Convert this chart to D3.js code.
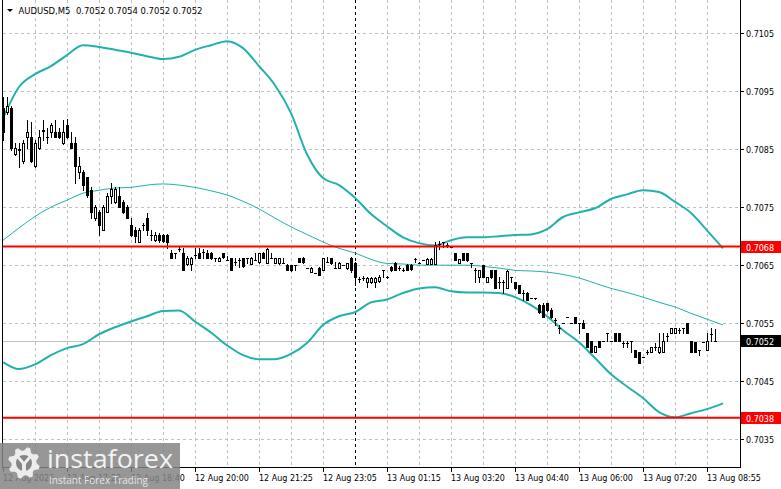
<!DOCTYPE html>
<html><head><meta charset="utf-8">
<script src="https://cdn.jsdelivr.net/npm/d3@7"></script>
<style>html,body{margin:0;padding:0;background:#fff;overflow:hidden}svg{display:block}</style>
</head><body>
<script>
// ---- DATA ----
const symbolTitle = "AUDUSD,M5  0.7052 0.7054 0.7052 0.7052";
const opens = [0.70921,0.70914,0.70921,0.70841,0.70848,0.70829,0.70871,0.70871,0.70821,0.70852,
0.70881,0.70871,0.70879,0.70879,0.70879,0.70860,0.70891,0.70860,0.70860,0.70810,
0.70810,0.70802,0.70779,0.70731,0.70741,0.70710,0.70741,0.70769,0.70759,0.70769,
0.70759,0.70750,0.70719,0.70710,0.70690,0.70719,0.70731,0.70702,0.70693,0.70702,
0.70702,0.70702,0.70671,0.70671,0.70678,0.70671,0.70652,0.70652,0.70667,0.70671,
0.70672,0.70671,0.70671,0.70662,0.70657,0.70671,0.70659,0.70662,0.70655,0.70659,
0.70662,0.70662,0.70652,0.70659,0.70655,0.70671,0.70653,0.70662,0.70653,0.70653,
0.70653,0.70650,0.70650,0.70650,0.70662,0.70662,0.70645,0.70638,0.70636,0.70645,
0.70641,0.70655,0.70662,0.70645,0.70645,0.70650,0.70645,0.70662,0.70653,0.70626,
0.70628,0.70621,0.70621,0.70621,0.70622,0.70641,0.70629,0.70647,0.70653,0.70645,
0.70641,0.70650,0.70650,0.70660,0.70653,0.70659,0.70652,0.70652,0.70652,0.70686,
0.70690,0.70684,0.70681,0.70671,0.70653,0.70671,0.70671,0.70653,0.70641,0.70629,
0.70650,0.70621,0.70641,0.70641,0.70621,0.70621,0.70610,0.70629,0.70621,0.70616,
0.70602,0.70602,0.70593,0.70593,0.70581,0.70581,0.70584,0.70572,0.70555,0.70541,
0.70550,0.70560,0.70550,0.70560,0.70550,0.70550,0.70533,0.70520,0.70500,0.70520,
0.70520,0.70533,0.70520,0.70533,0.70533,0.70516,0.70516,0.70520,0.70503,0.70500,
0.70491,0.70500,0.70500,0.70509,0.70500,0.70500,0.70528,0.70533,0.70533,0.70538,
0.70541,0.70550,0.70520,0.70517,0.70503,0.70517,0.70503,0.70531,0.70520];
const highs = [0.70940,0.70940,0.70924,0.70860,0.70860,0.70866,0.70900,0.70897,0.70866,0.70883,
0.70900,0.70886,0.70895,0.70900,0.70886,0.70900,0.70902,0.70879,0.70871,0.70836,
0.70814,0.70802,0.70784,0.70753,0.70745,0.70753,0.70774,0.70791,0.70784,0.70784,
0.70762,0.70753,0.70731,0.70716,0.70714,0.70722,0.70740,0.70710,0.70707,0.70705,
0.70703,0.70703,0.70676,0.70671,0.70681,0.70679,0.70666,0.70664,0.70679,0.70679,
0.70678,0.70676,0.70672,0.70662,0.70664,0.70671,0.70666,0.70662,0.70662,0.70662,
0.70662,0.70662,0.70664,0.70671,0.70671,0.70672,0.70679,0.70671,0.70662,0.70662,
0.70662,0.70652,0.70650,0.70650,0.70662,0.70664,0.70645,0.70647,0.70636,0.70647,
0.70662,0.70664,0.70662,0.70655,0.70655,0.70650,0.70653,0.70664,0.70655,0.70629,
0.70631,0.70629,0.70629,0.70629,0.70633,0.70641,0.70631,0.70648,0.70655,0.70648,
0.70645,0.70652,0.70652,0.70662,0.70655,0.70659,0.70662,0.70662,0.70690,0.70691,
0.70690,0.70688,0.70681,0.70671,0.70660,0.70671,0.70671,0.70653,0.70645,0.70641,
0.70650,0.70629,0.70641,0.70641,0.70629,0.70624,0.70641,0.70629,0.70621,0.70616,
0.70607,0.70603,0.70593,0.70593,0.70583,0.70584,0.70584,0.70576,0.70559,0.70547,
0.70550,0.70560,0.70550,0.70560,0.70550,0.70555,0.70533,0.70520,0.70510,0.70520,
0.70520,0.70533,0.70520,0.70533,0.70533,0.70520,0.70520,0.70520,0.70503,0.70500,
0.70491,0.70503,0.70509,0.70516,0.70533,0.70533,0.70533,0.70541,0.70541,0.70541,
0.70541,0.70550,0.70520,0.70517,0.70503,0.70517,0.70533,0.70541,0.70540];
const lows = [0.70866,0.70910,0.70848,0.70840,0.70819,0.70826,0.70852,0.70828,0.70819,0.70850,
0.70866,0.70860,0.70871,0.70871,0.70869,0.70859,0.70869,0.70852,0.70791,0.70800,
0.70779,0.70767,0.70731,0.70728,0.70702,0.70710,0.70741,0.70757,0.70757,0.70750,
0.70740,0.70731,0.70700,0.70690,0.70690,0.70710,0.70702,0.70693,0.70691,0.70690,
0.70690,0.70679,0.70662,0.70662,0.70674,0.70641,0.70650,0.70641,0.70662,0.70662,
0.70662,0.70662,0.70660,0.70657,0.70657,0.70662,0.70659,0.70641,0.70650,0.70647,
0.70647,0.70653,0.70652,0.70659,0.70653,0.70662,0.70653,0.70662,0.70653,0.70652,
0.70653,0.70641,0.70640,0.70641,0.70655,0.70653,0.70645,0.70638,0.70636,0.70633,
0.70641,0.70655,0.70652,0.70645,0.70645,0.70650,0.70643,0.70638,0.70616,0.70621,
0.70624,0.70612,0.70619,0.70612,0.70621,0.70629,0.70628,0.70640,0.70641,0.70641,
0.70640,0.70641,0.70641,0.70655,0.70653,0.70659,0.70652,0.70652,0.70652,0.70678,
0.70681,0.70681,0.70681,0.70659,0.70653,0.70659,0.70657,0.70647,0.70621,0.70621,
0.70629,0.70621,0.70628,0.70610,0.70610,0.70602,0.70610,0.70621,0.70609,0.70602,
0.70590,0.70590,0.70593,0.70591,0.70567,0.70560,0.70571,0.70559,0.70547,0.70533,
0.70550,0.70560,0.70550,0.70550,0.70533,0.70541,0.70509,0.70500,0.70500,0.70509,
0.70520,0.70520,0.70520,0.70520,0.70520,0.70509,0.70509,0.70500,0.70491,0.70481,
0.70491,0.70497,0.70500,0.70503,0.70498,0.70500,0.70520,0.70533,0.70533,0.70533,
0.70533,0.70533,0.70500,0.70500,0.70495,0.70517,0.70503,0.70520,0.70520];
const closes = [0.70879,0.70924,0.70852,0.70852,0.70850,0.70860,0.70879,0.70829,0.70860,0.70871,
0.70883,0.70871,0.70891,0.70871,0.70871,0.70879,0.70871,0.70852,0.70821,0.70821,
0.70788,0.70771,0.70741,0.70750,0.70719,0.70750,0.70769,0.70781,0.70781,0.70750,
0.70741,0.70731,0.70702,0.70700,0.70710,0.70719,0.70710,0.70702,0.70702,0.70693,
0.70691,0.70690,0.70662,0.70671,0.70678,0.70641,0.70662,0.70662,0.70667,0.70662,
0.70672,0.70662,0.70662,0.70662,0.70662,0.70664,0.70659,0.70641,0.70655,0.70659,
0.70648,0.70662,0.70662,0.70659,0.70671,0.70662,0.70678,0.70662,0.70662,0.70662,
0.70653,0.70641,0.70641,0.70650,0.70655,0.70655,0.70645,0.70645,0.70636,0.70633,
0.70662,0.70655,0.70653,0.70645,0.70653,0.70650,0.70653,0.70641,0.70629,0.70626,
0.70628,0.70628,0.70628,0.70628,0.70629,0.70641,0.70629,0.70641,0.70641,0.70645,
0.70641,0.70641,0.70643,0.70660,0.70653,0.70659,0.70660,0.70660,0.70684,0.70686,
0.70690,0.70684,0.70681,0.70659,0.70660,0.70659,0.70659,0.70653,0.70641,0.70641,
0.70629,0.70629,0.70629,0.70610,0.70621,0.70621,0.70640,0.70629,0.70610,0.70602,
0.70602,0.70590,0.70593,0.70593,0.70569,0.70560,0.70572,0.70560,0.70555,0.70541,
0.70550,0.70560,0.70550,0.70550,0.70550,0.70541,0.70509,0.70500,0.70510,0.70509,
0.70520,0.70533,0.70520,0.70520,0.70520,0.70516,0.70516,0.70520,0.70491,0.70481,
0.70491,0.70500,0.70509,0.70509,0.70509,0.70520,0.70528,0.70541,0.70541,0.70538,
0.70541,0.70533,0.70500,0.70500,0.70503,0.70517,0.70520,0.70531,0.70520];

// Bollinger band readings (sampled every 4 bars)
const bandIdx = d3.range(0, 181, 4);
const bandUpper = [0.70903,0.70957,0.70979,0.70993,0.71012,0.71029,0.71026,0.71021,0.71016,0.71010,
0.71005,0.71009,0.71021,0.71029,0.71036,0.71024,0.70993,0.70960,0.70912,0.70841,
0.70800,0.70788,0.70766,0.70738,0.70717,0.70698,0.70688,0.70684,0.70693,0.70698,
0.70698,0.70700,0.70702,0.70703,0.70712,0.70733,0.70741,0.70748,0.70764,0.70772,
0.70779,0.70776,0.70759,0.70740,0.70710,0.70679];
const bandMiddle = [0.70693,0.70714,0.70734,0.70750,0.70762,0.70774,0.70779,0.70783,0.70784,0.70788,
0.70790,0.70788,0.70784,0.70778,0.70771,0.70760,0.70747,0.70731,0.70716,0.70703,
0.70690,0.70679,0.70671,0.70660,0.70653,0.70652,0.70650,0.70650,0.70650,0.70650,
0.70648,0.70645,0.70641,0.70640,0.70638,0.70634,0.70628,0.70619,0.70610,0.70603,
0.70595,0.70586,0.70578,0.70567,0.70557,0.70547];
const bandLower = [0.70483,0.70471,0.70479,0.70495,0.70507,0.70514,0.70531,0.70543,0.70553,0.70562,
0.70571,0.70572,0.70553,0.70534,0.70512,0.70495,0.70488,0.70488,0.70497,0.70516,
0.70547,0.70562,0.70569,0.70586,0.70591,0.70602,0.70610,0.70612,0.70605,0.70603,
0.70603,0.70602,0.70595,0.70581,0.70562,0.70538,0.70517,0.70490,0.70462,0.70441,
0.70421,0.70397,0.70388,0.70395,0.70402,0.70412];

const priceTicks = [0.7105,0.7095,0.7085,0.7075,0.7065,0.7055,0.7045,0.7035];
const timeTickIdx = [0,16,32,48,64,80,96,112,128,144,160,176];
const timeTickLabels = ["12 Aug 2026","12 Aug 17:20","12 Aug 18:40","12 Aug 20:00","12 Aug 21:25","12 Aug 23:05",
"13 Aug 01:15","13 Aug 03:20","13 Aug 04:40","13 Aug 06:00","13 Aug 07:20","13 Aug 08:55"];
const levelValues = [0.70682, 0.70387];
const levelLabels = ["0.7068", "0.7038"];
const bidValue = 0.70520, bidLabel = "0.7052";
const daySeparatorIdx = 88;

// ---- DRAW ----
const W = 781, H = 489;
const plotL = 2, plotR = 740, plotB = 467;
const svg = d3.select("body").append("svg").attr("width", W).attr("height", H)
  .style("font-family", "'DejaVu Sans', sans-serif");
svg.append("rect").attr("width", W).attr("height", H).attr("fill", "#fff");

const x = d3.scaleLinear().domain([0, 178]).range([3, 715]);
const y = d3.scaleLinear().domain([0.7035, 0.7105]).range([439.3, 33]);
const px = v => Math.round(x(v));
const py = v => Math.round(y(v));

const grid = svg.append("g").attr("shape-rendering", "crispEdges");
priceTicks.forEach(p => {
  grid.append("line").attr("x1", plotL + 1).attr("x2", plotR).attr("y1", py(p) + 0.5).attr("y2", py(p) + 0.5)
    .attr("stroke", "#c0c0c0").attr("stroke-dasharray", "3,3");
});
d3.range(8, 180, 8).forEach(i => {
  const xx = px(i);
  if (xx >= plotR - 2 || i === daySeparatorIdx) return;
  grid.append("line").attr("x1", xx + 0.5).attr("x2", xx + 0.5).attr("y1", 0).attr("y2", plotB)
    .attr("stroke", "#c0c0c0").attr("stroke-dasharray", "3,3");
});
grid.append("line").attr("x1", px(daySeparatorIdx) + 0.5).attr("x2", px(daySeparatorIdx) + 0.5)
  .attr("y1", 0).attr("y2", plotB).attr("stroke", "#000").attr("stroke-dasharray", "3,3");
grid.append("line").attr("x1", plotL + 1).attr("x2", plotR).attr("y1", py(bidValue) + 0.5).attr("y2", py(bidValue) + 0.5)
  .attr("stroke", "#c0c0c0");

// Bollinger bands
const bandLine = arr => d3.line().x((d, k) => x(bandIdx[k])).y(d => y(d)).curve(d3.curveMonotoneX)(arr);
svg.append("path").attr("d", bandLine(bandUpper)).attr("fill", "none").attr("stroke", "#20b2aa").attr("stroke-width", 2);
svg.append("path").attr("d", bandLine(bandLower)).attr("fill", "none").attr("stroke", "#20b2aa").attr("stroke-width", 2);
svg.append("path").attr("d", bandLine(bandMiddle)).attr("fill", "none").attr("stroke", "#20b2aa").attr("stroke-width", 1);

// candles
const cg = svg.append("g").attr("shape-rendering", "crispEdges");
opens.forEach((o, i) => {
  const c = closes[i], h = highs[i], l = lows[i];
  const cx = px(i);
  const yo = py(o), yc = py(c), yh = py(h), yl = py(l);
  const top = Math.min(yo, yc), bot = Math.max(yo, yc);
  cg.append("rect").attr("x", cx).attr("y", yh).attr("width", 1).attr("height", Math.max(1, yl - yh + 1)).attr("fill", "#000");
  if (bot - top < 1) {
    cg.append("rect").attr("x", cx - 1).attr("y", top).attr("width", 3).attr("height", 1).attr("fill", "#000");
  } else if (c < o) {
    cg.append("rect").attr("x", cx - 1).attr("y", top).attr("width", 3).attr("height", bot - top + 1).attr("fill", "#000");
  } else {
    cg.append("rect").attr("x", cx - 0.5).attr("y", top + 0.5).attr("width", 2).attr("height", bot - top)
      .attr("fill", "#fff").attr("stroke", "#000").attr("stroke-width", 1);
  }
});

// red levels
levelValues.forEach(v => {
  svg.append("line").attr("x1", plotL + 1).attr("x2", plotR).attr("y1", y(v)).attr("y2", y(v))
    .attr("stroke", "#ff0000").attr("stroke-width", 2);
});

// frame
const fr = svg.append("g").attr("shape-rendering", "crispEdges").attr("stroke", "#000");
fr.append("line").attr("x1", plotL + 0.5).attr("x2", plotL + 0.5).attr("y1", 0).attr("y2", plotB + 1);
fr.append("line").attr("x1", plotR + 0.5).attr("x2", plotR + 0.5).attr("y1", 0).attr("y2", plotB + 1);
fr.append("line").attr("x1", plotL).attr("x2", plotR + 1).attr("y1", plotB + 0.5).attr("y2", plotB + 0.5);

// right axis
priceTicks.forEach(p => {
  fr.append("line").attr("x1", plotR + 1).attr("x2", plotR + 4).attr("y1", py(p) + 0.5).attr("y2", py(p) + 0.5);
  svg.append("text").attr("x", 746).attr("y", py(p) + 3.5).attr("font-size", 8).attr("fill", "#000").text(d3.format(".4f")(p));
});
function priceBox(v, label, color) {
  const yy = y(v);
  svg.append("rect").attr("x", 741).attr("y", Math.round(yy) - 6).attr("width", 40).attr("height", 12).attr("fill", color);
  svg.append("text").attr("x", 746).attr("y", Math.round(yy) + 3.5).attr("font-size", 8).attr("fill", "#fff").text(label);
}
levelValues.forEach((v, k) => priceBox(v, levelLabels[k], "#ff0000"));
priceBox(bidValue, bidLabel, "#000");

// bottom axis
timeTickIdx.forEach((i, k) => {
  const xx = px(i);
  fr.append("line").attr("x1", xx + 0.5).attr("x2", xx + 0.5).attr("y1", plotB + 1).attr("y2", plotB + 5);
  svg.append("text").attr("x", xx).attr("y", 481).attr("font-size", 8).attr("fill", "#000").text(timeTickLabels[k]);
});

// title
svg.append("path").attr("d", "M7,9 L13,9 L10,12 Z").attr("fill", "#000");
svg.append("text").attr("x", 18.5).attr("y", 14).attr("font-size", 9.5).attr("fill", "#000")
  .attr("textLength", 184).attr("lengthAdjust", "spacingAndGlyphs")
  .attr("xml:space", "preserve").style("white-space", "pre").text(symbolTitle);

// watermark
const wm = svg.append("g");
wm.append("rect").attr("x", 0).attr("y", 443).attr("width", 180).attr("height", 46).attr("fill", "#858585").attr("opacity", 0.85);
const gcx = 24, gcy = 463;
const teeth = 8, rO = 16, rI = 12.5;
let gp = [];
for (let k = 0; k < teeth * 4; k++) {
  const a = (k / (teeth * 4)) * Math.PI * 2 + 0.2;
  const r = (k % 4 < 2) ? rO : rI;
  gp.push([gcx + r * Math.cos(a), gcy + r * Math.sin(a)]);
}
wm.append("path").attr("d", d3.line().curve(d3.curveLinearClosed)(gp)).attr("fill", "#ececec");
wm.append("circle").attr("cx", gcx).attr("cy", gcy).attr("r", 8).attr("fill", "#858585");
wm.append("path").attr("d", `M${gcx-6},${gcy-6} L${gcx},${gcy+1} L${gcx+6},${gcy-6}`).attr("stroke", "#ececec").attr("stroke-width", 3).attr("fill", "none");
wm.append("rect").attr("x", gcx - 2).attr("y", gcy).attr("width", 4).attr("height", 12).attr("fill", "#ececec");
wm.append("text").attr("x", 47).attr("y", 468).attr("font-family", "'Open Sans', sans-serif").attr("font-size", 26)
  .attr("fill", "#f2f2f2").attr("textLength", 126).attr("lengthAdjust", "spacingAndGlyphs").text("instaforex");
wm.append("text").attr("x", 49).attr("y", 484).attr("font-family", "'Open Sans', sans-serif").attr("font-size", 11)
  .attr("fill", "#e6e6e6").attr("textLength", 99).attr("lengthAdjust", "spacingAndGlyphs").text("Instant Forex Trading");
</script>
</body></html>
